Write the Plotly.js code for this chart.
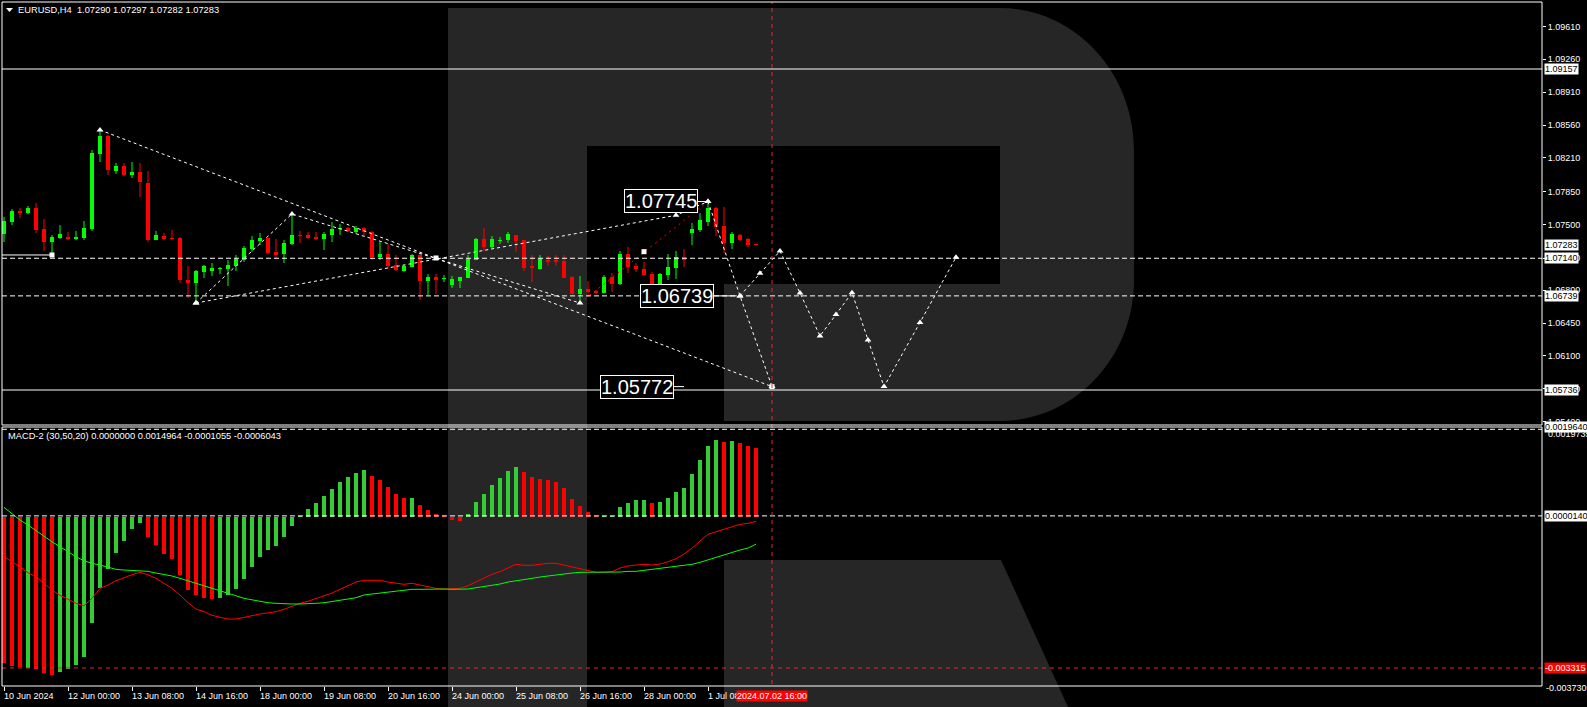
<!DOCTYPE html>
<html>
<head>
<meta charset="utf-8">
<script src="https://cdn.plot.ly/plotly-3.0.1.min.js"></script>
<style>
  html, body { margin: 0; padding: 0; background: #000; }
  #chart { width: 1587px; height: 707px; }
</style>
</head>
<body>
<div id="chart"></div>
<script>
// ---------- EURUSD H4 candles (bar index 0 = first visible bar) ----------
const openPrices = [
  1.07399, 1.07526, 1.07644, 1.07622, 1.07676, 1.07452, 1.07313, 1.07356, 1.07367, 1.07345,
  1.07356, 1.07452, 1.08251, 1.08443, 1.08070, 1.08123, 1.08027, 1.08059, 1.07942, 1.07335,
  1.07377, 1.07360, 1.07356, 1.06908, 1.06876, 1.06994, 1.07004, 1.07029, 1.07026, 1.07058,
  1.07121, 1.07239, 1.07324, 1.07356, 1.07207, 1.07185, 1.07292, 1.07388, 1.07388, 1.07367,
  1.07345, 1.07388, 1.07452, 1.07462, 1.07420, 1.07462, 1.07420, 1.07153, 1.07185, 1.07068,
  1.07004, 1.07047, 1.07175, 1.06898, 1.06940, 1.06919, 1.06855, 1.06898, 1.06930, 1.07121,
  1.07345, 1.07260, 1.07324, 1.07335, 1.07388, 1.07335, 1.07058, 1.07026, 1.07121, 1.07121,
  1.07111, 1.06940, 1.06759, 1.06812, 1.06791, 1.06770, 1.06940, 1.06866, 1.07185, 1.07058,
  1.07026, 1.06972, 1.06866, 1.06962, 1.07036, 1.07153, 1.07409, 1.07441, 1.07526, 1.07676,
  1.07484, 1.07303, 1.07388, 1.07345, 1.07290
];
const highPrices = [
  1.07580, 1.07665, 1.07676, 1.07697, 1.07729, 1.07558, 1.07388, 1.07494, 1.07420, 1.07431,
  1.07537, 1.08294, 1.08507, 1.08454, 1.08155, 1.08155, 1.08166, 1.08155, 1.08070, 1.07431,
  1.07409, 1.07441, 1.07367, 1.07058, 1.07015, 1.07068, 1.07089, 1.07047, 1.07121, 1.07175,
  1.07271, 1.07377, 1.07409, 1.07356, 1.07345, 1.07335, 1.07612, 1.07431, 1.07420, 1.07420,
  1.07420, 1.07526, 1.07505, 1.07473, 1.07484, 1.07473, 1.07431, 1.07313, 1.07292, 1.07175,
  1.07068, 1.07185, 1.07196, 1.06972, 1.06972, 1.06962, 1.06951, 1.06940, 1.07175, 1.07356,
  1.07462, 1.07377, 1.07367, 1.07420, 1.07388, 1.07335, 1.07175, 1.07175, 1.07164, 1.07175,
  1.07175, 1.06951, 1.06951, 1.06898, 1.06802, 1.06962, 1.06983, 1.07217, 1.07260, 1.07089,
  1.07100, 1.06994, 1.06983, 1.07185, 1.07217, 1.07239, 1.07516, 1.07622, 1.07745, 1.07686,
  1.07686, 1.07420, 1.07399, 1.07356, 1.07297
];
const lowPrices = [
  1.07313, 1.07494, 1.07569, 1.07612, 1.07409, 1.07217, 1.07196, 1.07345, 1.07335, 1.07335,
  1.07335, 1.07431, 1.08166, 1.08027, 1.08038, 1.08017, 1.07995, 1.07793, 1.07313, 1.07335,
  1.07335, 1.07335, 1.06876, 1.06716, 1.06663, 1.06930, 1.06951, 1.06972, 1.06844, 1.07004,
  1.07100, 1.07207, 1.07281, 1.07185, 1.07143, 1.07089, 1.07281, 1.07303, 1.07345, 1.07335,
  1.07228, 1.07313, 1.07388, 1.07420, 1.07399, 1.07377, 1.07121, 1.07121, 1.07026, 1.07004,
  1.06994, 1.07047, 1.06695, 1.06748, 1.06759, 1.06887, 1.06823, 1.06823, 1.06930, 1.07121,
  1.07217, 1.07249, 1.07292, 1.07303, 1.07207, 1.07004, 1.06887, 1.07026, 1.07058, 1.07058,
  1.06930, 1.06759, 1.06663, 1.06727, 1.06759, 1.06770, 1.06780, 1.06855, 1.06983, 1.06994,
  1.06962, 1.06834, 1.06834, 1.06908, 1.06919, 1.07047, 1.07281, 1.07420, 1.07484, 1.07377,
  1.07196, 1.07239, 1.07324, 1.07260, 1.07282
];
const closePrices = [
  1.07537, 1.07644, 1.07622, 1.07676, 1.07441, 1.07313, 1.07367, 1.07399, 1.07345, 1.07367,
  1.07462, 1.08262, 1.08443, 1.08081, 1.08123, 1.08027, 1.08059, 1.07953, 1.07335, 1.07388,
  1.07345, 1.07349, 1.06908, 1.06876, 1.07004, 1.07058, 1.07036, 1.07036, 1.07068, 1.07132,
  1.07249, 1.07335, 1.07356, 1.07196, 1.07175, 1.07303, 1.07388, 1.07377, 1.07356, 1.07345,
  1.07399, 1.07452, 1.07462, 1.07431, 1.07462, 1.07420, 1.07153, 1.07185, 1.07058, 1.07010,
  1.07058, 1.07175, 1.06898, 1.06940, 1.06908, 1.06930, 1.06919, 1.06940, 1.07132, 1.07345,
  1.07260, 1.07345, 1.07335, 1.07399, 1.07324, 1.07036, 1.07036, 1.07132, 1.07100, 1.07100,
  1.06930, 1.06759, 1.06812, 1.06780, 1.06770, 1.06940, 1.06866, 1.07185, 1.07047, 1.07026,
  1.06962, 1.06855, 1.06972, 1.07047, 1.07153, 1.07121, 1.07452, 1.07548, 1.07676, 1.07473,
  1.07303, 1.07399, 1.07335, 1.07281, 1.07283
];

// ---------- MACD-2 (30,50,20) ----------
const macdHist = [
  -0.003200, -0.003273, -0.003301, -0.003323, -0.003338, -0.003432, -0.003470, -0.003397, -0.003345, -0.003251,
  -0.003069, -0.002325, -0.001559, -0.001156, -0.000792, -0.000530, -0.000280, -0.000149, -0.000442, -0.000630,
  -0.000814, -0.000930, -0.001287, -0.001609, -0.001725, -0.001791, -0.001799, -0.001790, -0.001725, -0.001594,
  -0.001375, -0.001112, -0.000880, -0.000733, -0.000639, -0.000442, -0.000201, 0.000020, 0.000164, 0.000296,
  0.000449, 0.000602, 0.000762, 0.000865, 0.000959, 0.001018, 0.000893, 0.000799, 0.000650, 0.000499,
  0.000405, 0.000410, 0.000252, 0.000149, 0.000055, 0.000005, -0.000070, -0.000099, 0.000055, 0.000317,
  0.000493, 0.000690, 0.000843, 0.000996, 0.001084, 0.000974, 0.000865, 0.000821, 0.000799, 0.000755,
  0.000624, 0.000383, 0.000230, 0.000099, 0.000010, 0.000020, 0.000003, 0.000208, 0.000296, 0.000361,
  0.000365, 0.000296, 0.000317, 0.000405, 0.000536, 0.000624, 0.000930, 0.001237, 0.001543, 0.001675,
  0.001631, 0.001653, 0.001609, 0.001543, 0.0014964
];
// histogram bar state: g = rising, r = falling
const macdHistState = [
  'r','r','r','g','r','r','r','g','g','g',
  'g','g','g','g','g','g','g','g','r','r',
  'r','r','r','r','r','r','r','g','g','g',
  'g','g','g','g','g','g','g','g','g','g',
  'g','g','g','g','g','g','r','r','r','r',
  'r','g','r','r','r','r','r','r','g','g',
  'g','g','g','g','g','r','r','r','r','r',
  'r','r','r','r','r','g','g','g','g','g',
  'g','r','g','g','g','g','g','g','g','g',
  'r','g','r','r','r'
];
const macdRedLine = [
  -0.000880, -0.000989, -0.001099, -0.001230, -0.001318, -0.001462, -0.001609, -0.001725, -0.001813, -0.001900,
  -0.001953, -0.001791, -0.001572, -0.001499, -0.001405, -0.001331, -0.001274, -0.001221, -0.001274, -0.001353,
  -0.001462, -0.001572, -0.001718, -0.001887, -0.002025, -0.002084, -0.002163, -0.002207, -0.002244, -0.002244,
  -0.002215, -0.002171, -0.002134, -0.002106, -0.002084, -0.002031, -0.001959, -0.001900, -0.001856, -0.001799,
  -0.001740, -0.001675, -0.001594, -0.001515, -0.001434, -0.001397, -0.001397, -0.001397, -0.001434, -0.001462,
  -0.001484, -0.001462, -0.001499, -0.001537, -0.001572, -0.001587, -0.001587, -0.001572, -0.001515, -0.001427,
  -0.001340, -0.001265, -0.001208, -0.001121, -0.001046, -0.001068, -0.001068, -0.001046, -0.001024, -0.001024,
  -0.001062, -0.001112, -0.001149, -0.001186, -0.001221, -0.001221, -0.001208, -0.001127, -0.001084, -0.001062,
  -0.001046, -0.001062, -0.001040, -0.000989, -0.000924, -0.000821, -0.000696, -0.000536, -0.000390, -0.000333,
  -0.000280, -0.000215, -0.000171, -0.000149, -0.0001055
];
const macdGreenLine = [
  0.000201, 0.000070, -0.000077, -0.000186, -0.000311, -0.000427, -0.000552, -0.000661, -0.000771, -0.000880,
  -0.000968, -0.001024, -0.001062, -0.001112, -0.001156, -0.001171, -0.001178, -0.001178, -0.001200, -0.001237,
  -0.001265, -0.001302, -0.001353, -0.001405, -0.001462, -0.001515, -0.001572, -0.001615, -0.001681, -0.001734,
  -0.001791, -0.001828, -0.001865, -0.001887, -0.001900, -0.001915, -0.001915, -0.001915, -0.001900, -0.001900,
  -0.001887, -0.001865, -0.001834, -0.001806, -0.001777, -0.001718, -0.001696, -0.001675, -0.001646, -0.001631,
  -0.001609, -0.001594, -0.001594, -0.001587, -0.001580, -0.001587, -0.001594, -0.001594, -0.001587, -0.001559,
  -0.001537, -0.001515, -0.001478, -0.001434, -0.001412, -0.001375, -0.001353, -0.001324, -0.001302, -0.001274,
  -0.001243, -0.001237, -0.001221, -0.001221, -0.001221, -0.001221, -0.001221, -0.001215, -0.001200, -0.001200,
  -0.001178, -0.001156, -0.001149, -0.001127, -0.001099, -0.001077, -0.001046, -0.001003, -0.000946, -0.000893,
  -0.000836, -0.000777, -0.000733, -0.000690, -0.0006043
];

// ---------- time axis ----------
const timeTickBars = [0, 8, 16, 24, 32, 40, 48, 56, 64, 72, 80, 88];
const timeTickLabels = ['10 Jun 2024', '12 Jun 00:00', '13 Jun 08:00', '14 Jun 16:00', '18 Jun 00:00',
  '19 Jun 08:00', '20 Jun 16:00', '24 Jun 00:00', '25 Jun 08:00', '26 Jun 16:00', '28 Jun 00:00', '1 Jul 08:00'];
const cursorBar = 96;
const cursorLabel = '2024.07.02 16:00';

// ---------- price scale ----------
const priceTicks = [1.09610, 1.09260, 1.08910, 1.08560, 1.08210, 1.07850, 1.07500, 1.07140,
  1.06800, 1.06450, 1.06100, 1.05750, 1.05400];
const solidLevels = [1.09157, 1.05736];
const dashedLevels = [1.07140, 1.06739];
const bidPrice = 1.07283;
const macdScaleTop = '0.0019640';
const macdScaleBottom = '-0.0037301';

// ---------- drawn analysis ----------
const upperLineBars = [12, 96];
const upperLinePrices = [1.08507, 1.05772];
const swingLineBars = [24, 36, 72];
const swingLinePrices = [1.06663, 1.07612, 1.06663];
const lowerLineBars = [24, 84, 88];
const lowerLinePrices = [1.06663, 1.07598, 1.07745];
const redRayBars = [72, 88];
const redRayPrices = [1.06663, 1.07745];
const targetPathBars = [88, 92, 96];
const targetPathPrices = [1.07745, 1.06739, 1.05772];
const forecastBars = [92, 94.5, 97, 99.5, 102, 104, 106, 108, 110, 114.5, 119];
const forecastPrices = [1.06739, 1.06980, 1.07217, 1.06770, 1.06312, 1.06540, 1.06773, 1.06270, 1.05772, 1.06455, 1.07150];
const pivotBars = [6, 54, 80, 96];
const pivotPrices = [1.07175, 1.07143, 1.07210, 1.05772];
const startLineBars = [-1, 6];
const startLinePrices = [1.07175, 1.07175];
const boxLabels = ['1.07745', '1.06739', '1.05772'];
const boxLabelPrices = [1.07745, 1.06739, 1.05772];
const boxLabelAnchorBars = [88, 91.6, 85];

// ---------- geometry ----------
const W = 1587, H = 707;
const M = { l: 2, r: 45, t: 2, b: 21 };
const plotW = W - M.l - M.r;
const plotH = H - M.t - M.b;
const px = x => (x - M.l) / plotW;
const py = y => (H - M.b - y) / plotH;
const mainDomain = [py(425), 1];
const macdDomain = [0, py(427)];
const barPx = 8;   // pixels per bar
const FONT = 'Liberation Sans, Arial, sans-serif';
const GREEN = '#00ff00', RED = '#ff0000', HGREEN = '#32cd32';

function paperPath(cmds) {
  return cmds.map(c => {
    if (c[0] === 'Z') return 'Z';
    const pts = [];
    for (let k = 1; k < c.length; k += 2) pts.push(px(c[k]).toFixed(5) + ',' + py(c[k + 1]).toFixed(5));
    return c[0] + pts.join(' ');
  }).join(' ');
}

// ---------- candles ----------
const idx = openPrices.map((_, i) => i);
const isUp = idx.map(i => closePrices[i] >= openPrices[i]);
function wicks(up) {
  const xs = [], ys = [];
  idx.forEach(i => {
    if (isUp[i] === up) { xs.push(i, i, null); ys.push(lowPrices[i], highPrices[i], null); }
  });
  return { x: xs, y: ys };
}
const wUp = wicks(true), wDn = wicks(false);
const minBody = 0.00011;
const bodyBase = idx.map(i => Math.min(openPrices[i], closePrices[i]));
const bodyLen = idx.map(i => Math.max(Math.abs(closePrices[i] - openPrices[i]), minBody));

const traces = [];
traces.push({ type: 'scatter', mode: 'lines', x: wUp.x, y: wUp.y, line: { color: GREEN, width: 1 }, xaxis: 'x', yaxis: 'y', hoverinfo: 'skip' });
traces.push({ type: 'scatter', mode: 'lines', x: wDn.x, y: wDn.y, line: { color: RED, width: 1 }, xaxis: 'x', yaxis: 'y', hoverinfo: 'skip' });
traces.push({
  type: 'bar', x: idx, y: bodyLen, base: bodyBase, width: 0.62,
  marker: { color: idx.map(i => isUp[i] ? GREEN : RED), line: { width: 0 } },
  xaxis: 'x', yaxis: 'y', hoverinfo: 'skip'
});

// ---------- analysis lines ----------
const dotted = { color: '#ffffff', width: 1, dash: '3px,3px' };
const tri = { symbol: 'triangle-up', size: 6, color: '#ffffff' };
traces.push({ type: 'scatter', mode: 'lines', x: startLineBars, y: startLinePrices, line: { color: '#ffffff', width: 1 }, xaxis: 'x', yaxis: 'y', hoverinfo: 'skip' });
traces.push({ type: 'scatter', mode: 'lines', x: redRayBars, y: redRayPrices, line: { color: RED, width: 1, dash: '2px,4px' }, xaxis: 'x', yaxis: 'y', hoverinfo: 'skip' });
[[upperLineBars, upperLinePrices], [swingLineBars, swingLinePrices], [lowerLineBars, lowerLinePrices],
 [targetPathBars, targetPathPrices], [forecastBars, forecastPrices]].forEach(([xs, ys]) => {
  traces.push({ type: 'scatter', mode: 'lines+markers', x: xs, y: ys, line: dotted, marker: tri, xaxis: 'x', yaxis: 'y', hoverinfo: 'skip', cliponaxis: false });
});
traces.push({ type: 'scatter', mode: 'markers', x: pivotBars, y: pivotPrices, marker: { symbol: 'square', size: 5, color: '#ffffff' }, xaxis: 'x', yaxis: 'y', hoverinfo: 'skip' });

// short connectors from the price boxes to their anchor points
const boxRightBar = boxLabelAnchorBars.map((b, k) => b - [10.5, 23, 10][k] / barPx);
boxLabelPrices.forEach((p, k) => {
  traces.push({ type: 'scatter', mode: 'lines', x: [boxRightBar[k], boxLabelAnchorBars[k]], y: [p, p], line: { color: '#ffffff', width: 1 }, xaxis: 'x', yaxis: 'y', hoverinfo: 'skip' });
});

// ---------- MACD pane ----------
traces.push({
  type: 'bar', x: idx, y: macdHist, width: 0.5,
  marker: { color: macdHistState.map(s => s === 'g' ? HGREEN : RED), line: { width: 0 } },
  xaxis: 'x', yaxis: 'y2', hoverinfo: 'skip'
});
traces.push({ type: 'scatter', mode: 'lines', x: idx, y: macdRedLine, line: { color: RED, width: 1 }, xaxis: 'x', yaxis: 'y2', hoverinfo: 'skip' });
traces.push({ type: 'scatter', mode: 'lines', x: idx, y: macdGreenLine, line: { color: GREEN, width: 1 }, xaxis: 'x', yaxis: 'y2', hoverinfo: 'skip' });

// ---------- shapes ----------
const shapes = [];
// logo watermark
shapes.push({
  type: 'path', xref: 'paper', yref: 'paper', layer: 'below', fillcolor: '#262626', line: { width: 0 },
  path: paperPath([['M', 448, 8], ['L', 1000, 8], ['C', 1074, 8, 1134, 72, 1134, 150], ['L', 1134, 280],
    ['C', 1134, 358, 1074, 421, 1000, 421], ['L', 724, 421], ['L', 724, 284], ['L', 1000, 284], ['L', 1000, 146],
    ['L', 587, 146], ['L', 587, 707], ['L', 448, 707], ['Z']])
});
shapes.push({
  type: 'path', xref: 'paper', yref: 'paper', layer: 'below', fillcolor: '#262626', line: { width: 0 },
  path: paperPath([['M', 724, 560], ['L', 1001, 560], ['L', 1068, 707], ['L', 724, 707], ['Z']])
});
// price levels
solidLevels.forEach(p => shapes.push({ type: 'line', xref: 'paper', x0: 0, x1: 1, yref: 'y', y0: p, y1: p, line: { color: '#ffffff', width: 1 } }));
dashedLevels.forEach(p => shapes.push({ type: 'line', xref: 'paper', x0: 0, x1: 1, yref: 'y', y0: p, y1: p, line: { color: '#ffffff', width: 1, dash: '5px,3px' } }));
// MACD levels
shapes.push({ type: 'line', xref: 'paper', x0: 0, x1: 1, yref: 'y2', y0: 0.0000140, y1: 0.0000140, line: { color: '#ffffff', width: 1, dash: '5px,3px' } });
shapes.push({ type: 'line', xref: 'paper', x0: 0, x1: 1, yref: 'y2', y0: 0.00191, y1: 0.00191, line: { color: '#ffffff', width: 1, dash: '5px,3px' } });
shapes.push({ type: 'line', xref: 'paper', x0: 0, x1: 1, yref: 'y2', y0: -0.003315, y1: -0.003315, line: { color: '#e02828', width: 1, dash: '4px,4px' } });
// time cursor
shapes.push({ type: 'line', xref: 'x', x0: cursorBar, x1: cursorBar, yref: 'paper', y0: py(684), y1: 1, line: { color: '#e02828', width: 1, dash: '4px,4px' } });
// pane frames
shapes.push({ type: 'rect', xref: 'paper', yref: 'paper', x0: 0, x1: 1, y0: mainDomain[0], y1: 1, line: { color: '#ffffff', width: 1 } });
shapes.push({ type: 'rect', xref: 'paper', yref: 'paper', x0: 0, x1: 1, y0: 0, y1: macdDomain[1], line: { color: '#ffffff', width: 1 } });
// symbol menu arrow
shapes.push({ type: 'path', xref: 'paper', yref: 'paper', fillcolor: '#ffffff', line: { width: 0 },
  path: paperPath([['M', 6, 8], ['L', 13, 8], ['L', 9.5, 12], ['Z']]) });

// ---------- annotations ----------
const ann = [];
const txt = (c, size) => ({ family: FONT, size: size || 9, color: c || '#ffffff' });
ann.push({ xref: 'paper', yref: 'paper', x: px(16), y: py(10), xanchor: 'left', yanchor: 'middle', showarrow: false,
  text: 'EURUSD,H4\u00a0\u00a01.07290 1.07297 1.07282 1.07283', font: txt('#ffffff', 9.3) });
ann.push({ xref: 'paper', yref: 'paper', x: px(6), y: py(436), xanchor: 'left', yanchor: 'middle', showarrow: false,
  text: 'MACD-2 (30,50,20) 0.0000000 0.0014964 -0.0001055 -0.0006043', font: txt('#ffffff', 9.3) });
// time labels
timeTickBars.forEach((b, k) => ann.push({ xref: 'x', yref: 'paper', x: b, xshift: -2, y: py(696), xanchor: 'left', yanchor: 'middle',
  showarrow: false, text: timeTickLabels[k], font: txt() }));
ann.push({ xref: 'x', yref: 'paper', x: cursorBar, y: py(696), xanchor: 'center', yanchor: 'middle', showarrow: false,
  text: cursorLabel, font: txt(), bgcolor: '#ff0000', borderpad: 0 });
// right-hand price boxes
const rightBox = (yref, v, label, bg, fg) => ({ xref: 'paper', yref: yref, x: 1, xshift: 2, y: v, xanchor: 'left', yanchor: 'middle',
  showarrow: false, text: label, font: txt(fg), bgcolor: bg, borderpad: 0 });
solidLevels.concat(dashedLevels).forEach(p => ann.push(rightBox('y', p, p.toFixed(5), '#ffffff', '#000000')));
ann.push(rightBox('y', bidPrice, bidPrice.toFixed(5), '#ffffff', '#000000'));
ann.push({ xref: 'paper', yref: 'paper', x: 1, xshift: 4, y: py(434), xanchor: 'left', yanchor: 'middle', showarrow: false, text: '0.0019735', font: txt() });
ann.push(rightBox('paper', py(427.5), macdScaleTop, '#ffffff', '#000000'));
ann.push(rightBox('y2', 0.0000140, '0.0000140', '#ffffff', '#000000'));
ann.push(rightBox('y2', -0.003315, '-0.003315', '#ff0000', '#ffffff'));
ann.push({ xref: 'paper', yref: 'paper', x: 1, xshift: 2, y: py(688), xanchor: 'left', yanchor: 'middle', showarrow: false, text: macdScaleBottom, font: txt() });
// large price boxes on the chart
boxLabels.forEach((s, k) => ann.push({ xref: 'x', yref: 'y', x: boxRightBar[k], y: boxLabelPrices[k], xanchor: 'right', yanchor: 'middle',
  showarrow: false, text: s, font: { family: FONT, size: 20, color: '#ffffff' },
  bgcolor: '#000000', bordercolor: '#ffffff', borderwidth: 1, borderpad: 0 }));

const layout = {
  width: W, height: H,
  margin: M,
  paper_bgcolor: '#000000', plot_bgcolor: 'rgba(0,0,0,0)',
  showlegend: false, hovermode: false, barmode: 'overlay', bargap: 0,
  font: { family: FONT, size: 9, color: '#ffffff' },
  xaxis: {
    range: [-0.25, (plotW / barPx) - 0.25], anchor: 'y2', showgrid: false, zeroline: false, showline: false,
    tickmode: 'array', tickvals: timeTickBars, ticks: 'outside', ticklen: 4, tickcolor: '#ffffff', showticklabels: false, fixedrange: true
  },
  yaxis: {
    domain: mainDomain, range: [1.05363, 1.09871], side: 'right', anchor: 'x', showgrid: false, zeroline: false, showline: false,
    tickmode: 'array', tickvals: priceTicks, ticktext: priceTicks.map(v => v.toFixed(5)),
    ticks: 'outside', ticklen: 3, tickcolor: '#ffffff', tickfont: { family: FONT, size: 9, color: '#ffffff' }, fixedrange: true
  },
  yaxis2: {
    domain: macdDomain, range: [-0.00371, 0.00196], side: 'right', anchor: 'x', showgrid: false, zeroline: false, showline: false,
    showticklabels: false, ticks: '', fixedrange: true
  },
  shapes: shapes,
  annotations: ann
};

Plotly.newPlot('chart', traces, layout, { staticPlot: true, displayModeBar: false });
</script>
</body>
</html>
